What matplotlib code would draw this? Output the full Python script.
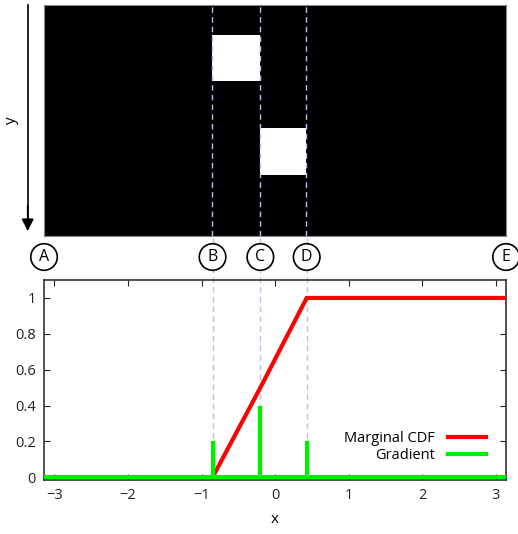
import numpy as np
import matplotlib
matplotlib.use("Agg")
from matplotlib import pyplot as plt
from matplotlib.patches import Rectangle
from matplotlib import transforms

plt.rcParams['font.family'] = ['Open Sans', 'DejaVu Sans']

# breakpoints along x (B, C, D) and the data on them
x_min, x_max = -np.pi, np.pi
breaks = [-0.85, -0.2, 0.43]
cdf_at_breaks = [0.0, 0.5, 1.0]
grad_spikes = [0.2, 0.4, 0.2]
marker_labels = ['A', 'B', 'C', 'D', 'E']

# white blocks of the top image: (x0, x1, y0, y1), y measured downwards
blocks = [(breaks[0], breaks[1], 0.41, 1.04),
          (breaks[1], breaks[2], 1.67, 2.31)]
y_extent = np.pi

fig = plt.figure(figsize=(5.18, 5.34), dpi=100)
top_pos = [0.084, 0.558, 0.893, 0.4326]
bot_pos = [0.085, 0.1011, 0.892, 0.3745]
ax1 = fig.add_axes(top_pos)
ax2 = fig.add_axes(bot_pos)

dash_color = '#b8c0ec'

# --- top image ---
ax1.set_facecolor('black')
for x0, x1, y0, y1 in blocks:
    ax1.add_patch(Rectangle((x0, y0), x1 - x0, y1 - y0, facecolor='white',
                            edgecolor='none'))
ax1.set_xlim(x_min, x_max)
ax1.set_ylim(y_extent, 0)
ax1.set_xticks([])
ax1.set_yticks([])
for s in ax1.spines.values():
    s.set_color('#888888')
    s.set_linewidth(0.8)
for b in breaks:
    ax1.axvline(b, color=dash_color, lw=1, ls=(0, (4, 3)), zorder=3)

# --- bottom plot ---
cdf_x = [breaks[0]] + breaks + [x_max]
cdf_y = [cdf_at_breaks[0]] + cdf_at_breaks + [cdf_at_breaks[-1]]

grad_x, grad_y = [x_min], [0.0]
for b, h in zip(breaks, grad_spikes):
    grad_x += [b, b, b]
    grad_y += [0.0, h, 0.0]
grad_x.append(x_max)
grad_y.append(0.0)

ax2.set_xlim(x_min, x_max)
ax2.set_ylim(-0.015, 1.1)
ax2.plot(cdf_x, cdf_y, color='#ff0000', lw=3, label='Marginal CDF',
         solid_joinstyle='miter', zorder=3)
ax2.plot(grad_x, grad_y, color='#00ee00', lw=3, label='Gradient',
         solid_joinstyle='miter', zorder=4)

# dashed guides from zero up through the gap between panels
gap_top = ax2.transData.inverted().transform(
    fig.transFigure.transform((0, top_pos[1])))[1]
for b in breaks:
    ax2.plot([b, b], [0, gap_top], color=dash_color, lw=1, ls=(0, (4, 3)),
             clip_on=False, zorder=1)

ax2.set_xticks([-3, -2, -1, 0, 1, 2, 3])
ax2.set_yticks([0, 0.2, 0.4, 0.6, 0.8, 1])
ax2.set_yticklabels(['0', '0.2', '0.4', '0.6', '0.8', '1'])
ax2.tick_params(direction='in', top=True, right=True, length=4, width=0.8,
                labelsize=10.5, colors='#222222', pad=6)
for s in ax2.spines.values():
    s.set_color('#333333')
    s.set_linewidth(1.2)
ax2.set_xlabel('x', fontsize=11, labelpad=6)
ax2.legend(loc='lower right', markerfirst=False, frameon=False,
           handlelength=2.6, handletextpad=0.9, fontsize=10.5,
           labelspacing=0.1, bbox_to_anchor=(0.985, 0.02))

# circled markers between the panels
blend = transforms.blended_transform_factory(ax2.transData, fig.transFigure)
marker_x = [x_min] + breaks + [x_max]
for lab, mx in zip(marker_labels, marker_x):
    fig.text(mx, 0.5187, lab, transform=blend, ha='center', va='center',
             fontsize=11.5,
             bbox=dict(boxstyle='circle,pad=0.33', fc='white', ec='black',
                       lw=1.2))

# y arrow for the image
fig.add_artist(plt.Line2D([0.0535, 0.0535], [0.99, 0.575], color='black',
                          lw=1.2))
ax1.annotate('', xy=(0.0535, 0.562), xytext=(0.0535, 0.62),
             xycoords='figure fraction', textcoords='figure fraction',
             arrowprops=dict(arrowstyle='-|>', color='black', lw=1.2,
                             mutation_scale=18))
fig.text(0.023, 0.775, 'y', rotation=90, ha='center', va='center',
         fontsize=11)

fig.savefig('out.png', dpi=100)
